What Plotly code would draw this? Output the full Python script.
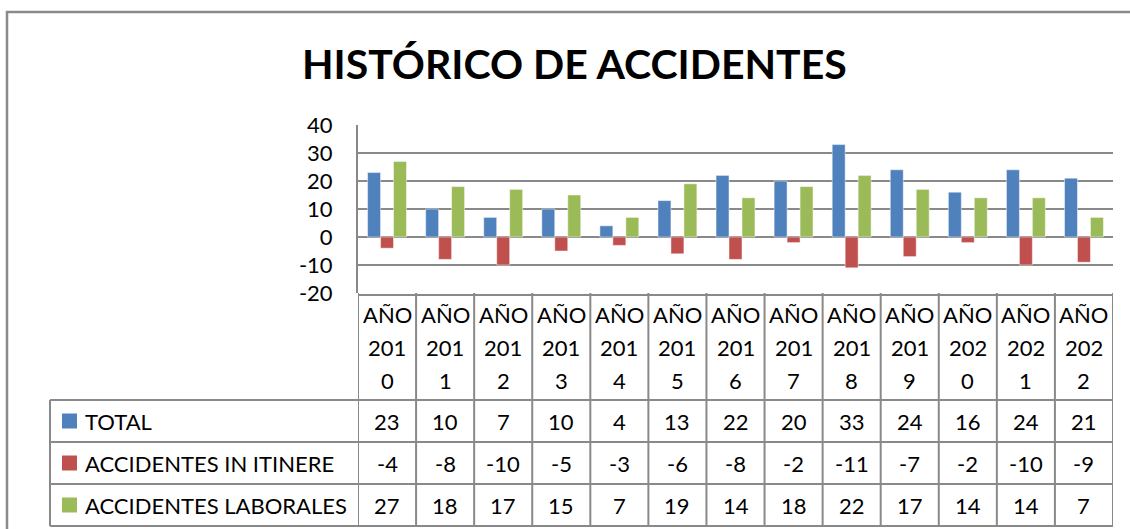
import plotly.graph_objects as go

# ---- data ----
categories = ["AÑO 2010", "AÑO 2011", "AÑO 2012", "AÑO 2013", "AÑO 2014", "AÑO 2015", "AÑO 2016",
              "AÑO 2017", "AÑO 2018", "AÑO 2019", "AÑO 2020", "AÑO 2021", "AÑO 2022"]
series_names = ["TOTAL", "ACCIDENTES IN ITINERE", "ACCIDENTES LABORALES"]
total = [23, 10, 7, 10, 4, 13, 22, 20, 33, 24, 16, 24, 21]
itinere = [-4, -8, -10, -5, -3, -6, -8, -2, -11, -7, -2, -10, -9]
laborales = [27, 18, 17, 15, 7, 19, 14, 18, 22, 17, 14, 14, 7]
y_ticks = [-20, -10, 0, 10, 20, 30, 40]
y_tick_labels = ["-20", "-10", "0", "10", "20", "30", "40"]
title = "HISTÓRICO DE ACCIDENTES"

# ---- style ----
W, H = 1130, 529
colors = ["#4F81BD", "#C0504D", "#9BBB59"]
grid_col = "#898989"
FONT = "Lato"

def X(px):
    return px / W

def Y(py):
    return 1 - py / H

fig = go.Figure()
for name, vals, col in zip(series_names, [total, itinere, laborales], colors):
    fig.add_trace(go.Bar(x=categories, y=vals, name=name, marker_color=col,
                         marker_line_width=0.8, marker_line_color="rgba(255,255,255,0.6)"))

plot_l, plot_r, plot_t, plot_b = 358, 1113, 125, 293
fig.update_layout(
    width=W, height=H, margin=dict(l=0, r=0, t=0, b=0, pad=0, autoexpand=False),
    paper_bgcolor="white", plot_bgcolor="white",
    barmode="group", bargap=0.33, bargroupgap=0,
    showlegend=False,
    font=dict(family=FONT, size=22, color="black"),
    xaxis=dict(domain=[X(plot_l), X(plot_r)], range=[-0.5, len(categories) - 0.5],
               showticklabels=False, showgrid=False, zeroline=False, showline=False,
               automargin=False),
    yaxis=dict(domain=[Y(plot_b), Y(plot_t)], range=[-20, 40],
               tickmode="array", tickvals=y_ticks, ticktext=y_tick_labels,
               showgrid=True, gridcolor=grid_col, gridwidth=2, zeroline=False,
               showline=True, linecolor=grid_col, linewidth=2,
               ticks="", ticklabelstandoff=19, automargin=False,
               tickfont=dict(family=FONT, size=22, color="black")),
)

shapes = []
annotations = []
line = dict(color=grid_col, width=2)

# outer chart frame
shapes.append(dict(type="rect", xref="paper", yref="paper", x0=X(7), x1=X(1160), y0=Y(560), y1=Y(12),
                   line=dict(color="#8a8a8a", width=2.5), fillcolor="rgba(0,0,0,0)", layer="below"))

# title
annotations.append(dict(text=title, xref="paper", yref="paper", x=X(574), y=Y(63),
                        xanchor="center", yanchor="middle", showarrow=False,
                        font=dict(family=FONT, size=41, color="black", weight="bold")))

# data table geometry
head_t, head_b = 293, 400
row_edges = [400, 442, 484, 526]
leg_l = 50

# header vertical lines at category boundaries
for i in range(len(categories) + 1):
    shapes.append(dict(type="line", xref="x", yref="paper", x0=i - 0.5, x1=i - 0.5,
                       y0=Y(row_edges[-1]), y1=Y(head_t), line=line))
# horizontal lines
shapes.append(dict(type="line", xref="paper", yref="paper", x0=X(plot_l), x1=X(plot_r),
                   y0=Y(head_t + 2), y1=Y(head_t + 2), line=line))
for ry in row_edges:
    shapes.append(dict(type="line", xref="paper", yref="paper", x0=X(leg_l), x1=X(plot_r),
                       y0=Y(ry), y1=Y(ry), line=line))
shapes.append(dict(type="line", xref="paper", yref="paper", x0=X(leg_l), x1=X(leg_l),
                   y0=Y(row_edges[-1]), y1=Y(row_edges[0]), line=line))

# header labels (wrapped like the original)
header_lines_y = [314, 347, 380]
for i, cat in enumerate(categories):
    parts = [cat[:3], cat[4:7], cat[7:]]
    for p, py in zip(parts, header_lines_y):
        annotations.append(dict(text=p, xref="x", yref="paper", x=i, y=Y(py),
                                xanchor="center", yanchor="middle", showarrow=False,
                                font=dict(family=FONT, size=22, color="black")))

# rows
for r, (name, vals, col) in enumerate(zip(series_names, [total, itinere, laborales], colors)):
    cy = (row_edges[r] + row_edges[r + 1]) / 2
    shapes.append(dict(type="rect", xref="paper", yref="paper", x0=X(62), x1=X(77),
                       y0=Y(cy + 7.5), y1=Y(cy - 7.5), line=dict(width=0), fillcolor=col))
    annotations.append(dict(text=name, xref="paper", yref="paper", x=X(83), y=Y(cy),
                            xanchor="left", yanchor="middle", showarrow=False,
                            font=dict(family=FONT, size=22, color="black")))
    for i, v in enumerate(vals):
        annotations.append(dict(text=str(v), xref="x", yref="paper", x=i, y=Y(cy),
                                xanchor="center", yanchor="middle", showarrow=False,
                                font=dict(family=FONT, size=22, color="black")))

fig.update_layout(shapes=shapes, annotations=annotations)
fig.write_html("out.html", config={"displayModeBar": False},
               post_script="document.body.style.margin='0';document.body.style.overflow='hidden';")
